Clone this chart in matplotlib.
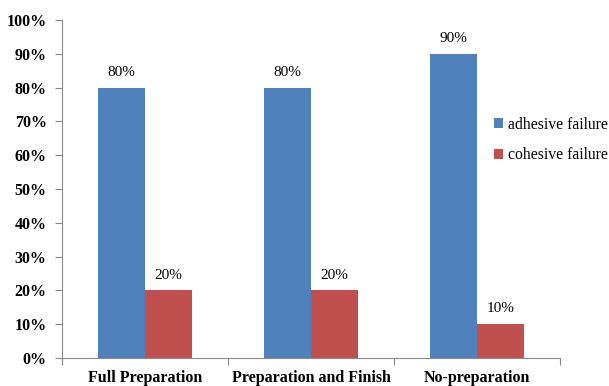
import matplotlib
matplotlib.use("Agg")
import matplotlib.pyplot as plt
import numpy as np

categories = ["Full Preparation", "Preparation and Finish", "No-preparation"]
adhesive = [80, 80, 90]
cohesive = [20, 20, 10]
series_names = ["adhesive failure", "cohesive failure"]
yticks = [0, 10, 20, 30, 40, 50, 60, 70, 80, 90, 100]

plt.rcParams['font.family'] = ['Liberation Serif', 'DejaVu Serif']

fig = plt.figure(figsize=(6.09, 3.86), dpi=100)
ax = fig.add_axes([62/609, 1 - 358/386, (560 - 62)/609, (358 - 20)/386])

x = np.arange(len(categories))
w = 0.283
b1 = ax.bar(x - w/2, adhesive, w, color="#4F81BD", label=series_names[0])
b2 = ax.bar(x + w/2, cohesive, w, color="#C0504D", label=series_names[1])
for bars, vals in ((b1, adhesive), (b2, cohesive)):
    for r, v in zip(bars, vals):
        ax.text(r.get_x() + r.get_width()/2, v + 2.6, f"{v}%", ha="center", va="bottom", fontsize=11)

ax.set_xlim(-0.5, len(categories) - 0.5)
ax.set_ylim(0, 100)
ax.set_yticks(yticks)
ax.set_yticklabels([f"{t}%" for t in yticks], fontsize=11.5, fontweight="bold")
ax.set_xticks(np.arange(len(categories) + 1) - 0.5, minor=False)
ax.set_xticklabels([])
ax.set_xticks(x, minor=True)
ax.set_xticklabels(categories, minor=True, fontsize=11.5, fontweight="bold")
ax.tick_params(axis="x", which="minor", length=0, pad=9)
ax.tick_params(axis="x", which="major", length=5, direction="out", color="#888888")
ax.tick_params(axis="y", length=5, direction="out", color="#888888", pad=6)
for s in ["top", "right"]:
    ax.spines[s].set_visible(False)
for s in ["left", "bottom"]:
    ax.spines[s].set_color("#888888")

leg = fig.legend(handles=[b1, b2], labels=series_names, loc="center left",
                 bbox_to_anchor=(480/609, 1 - 140/386), frameon=False, fontsize=11.3,
                 handlelength=0.55, handleheight=0.55, handletextpad=0.35, labelspacing=0.95)

fig.savefig("out.png", dpi=100)
